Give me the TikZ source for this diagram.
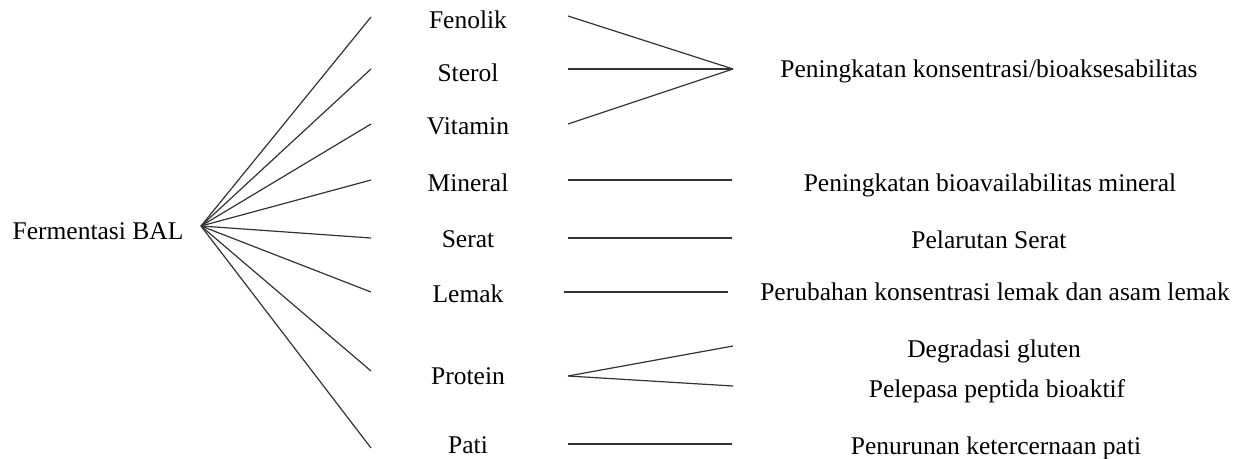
\documentclass[tikz,border=0pt]{standalone}
\usepackage{fontspec}
\setmainfont{Liberation Serif}
\tikzset{
  lbl/.style={anchor=base, inner sep=0pt, font=\fontsize{25.5}{30}\selectfont},
  conn/.style={draw=black!80, line width=1.2pt}
}
\begin{document}
\begin{tikzpicture}[x=1pt,y=-1pt]
\useasboundingbox (0,0) rectangle (1237,458);
% source
\node[lbl] (bal) at (98,239) {Fermentasi BAL};
\coordinate (hub) at (201,226);
% components
\node[lbl] (fenolik) at (468,28) {Fenolik};
\node[lbl] (sterol)  at (468,81) {Sterol};
\node[lbl] (vitamin) at (468,134) {Vitamin};
\node[lbl] (mineral) at (468,191) {Mineral};
\node[lbl] (serat)   at (468,247) {Serat};
\node[lbl] (lemak)   at (468,302) {Lemak};
\node[lbl] (protein) at (468,384) {Protein};
\node[lbl] (pati)    at (468,453) {Pati};
% fan ends
\coordinate (f1) at (371,17);
\coordinate (f2) at (371,69);
\coordinate (f3) at (371,124);
\coordinate (f4) at (371,180);
\coordinate (f5) at (371,238);
\coordinate (f6) at (371,292);
\coordinate (f7) at (371,371);
\coordinate (f8) at (371,448);
\foreach \i in {1,...,8} \draw[conn] (hub) -- (f\i);
% effects
\node[lbl] (e1) at (989,77) {Peningkatan konsentrasi/bioaksesabilitas};
\node[lbl] (e2) at (990,191) {Peningkatan bioavailabilitas mineral};
\node[lbl] (e3) at (989,248) {Pelarutan Serat};
\node[lbl] (e4) at (995,300) {Perubahan konsentrasi lemak dan asam lemak};
\node[lbl] (e5) at (994,357) {Degradasi gluten};
\node[lbl] (e6) at (997,397) {Pelepasa peptida bioaktif};
\node[lbl] (e7) at (996,454) {Penurunan ketercernaan pati};
% connectors
\coordinate (a1) at (568,16);
\coordinate (a2) at (568,69);
\coordinate (a3) at (568,124);
\coordinate (m) at (733,69);
\draw[conn] (a1) -- (m);
\draw[conn] (a2) -- (m);
\draw[conn] (a3) -- (m);
\coordinate (b1) at (568,180); \coordinate (b2) at (732,180);
\draw[conn] (b1) -- (b2);
\coordinate (c1) at (568,238); \coordinate (c2) at (732,238);
\draw[conn] (c1) -- (c2);
\coordinate (d1) at (564,292); \coordinate (d2) at (728,292);
\draw[conn] (d1) -- (d2);
\coordinate (p0) at (568,376); \coordinate (p1) at (733,346); \coordinate (p2) at (733,386);
\draw[conn] (p0) -- (p1);
\draw[conn] (p0) -- (p2);
\coordinate (g1) at (568,444); \coordinate (g2) at (732,444);
\draw[conn] (g1) -- (g2);
\end{tikzpicture}
\end{document}
